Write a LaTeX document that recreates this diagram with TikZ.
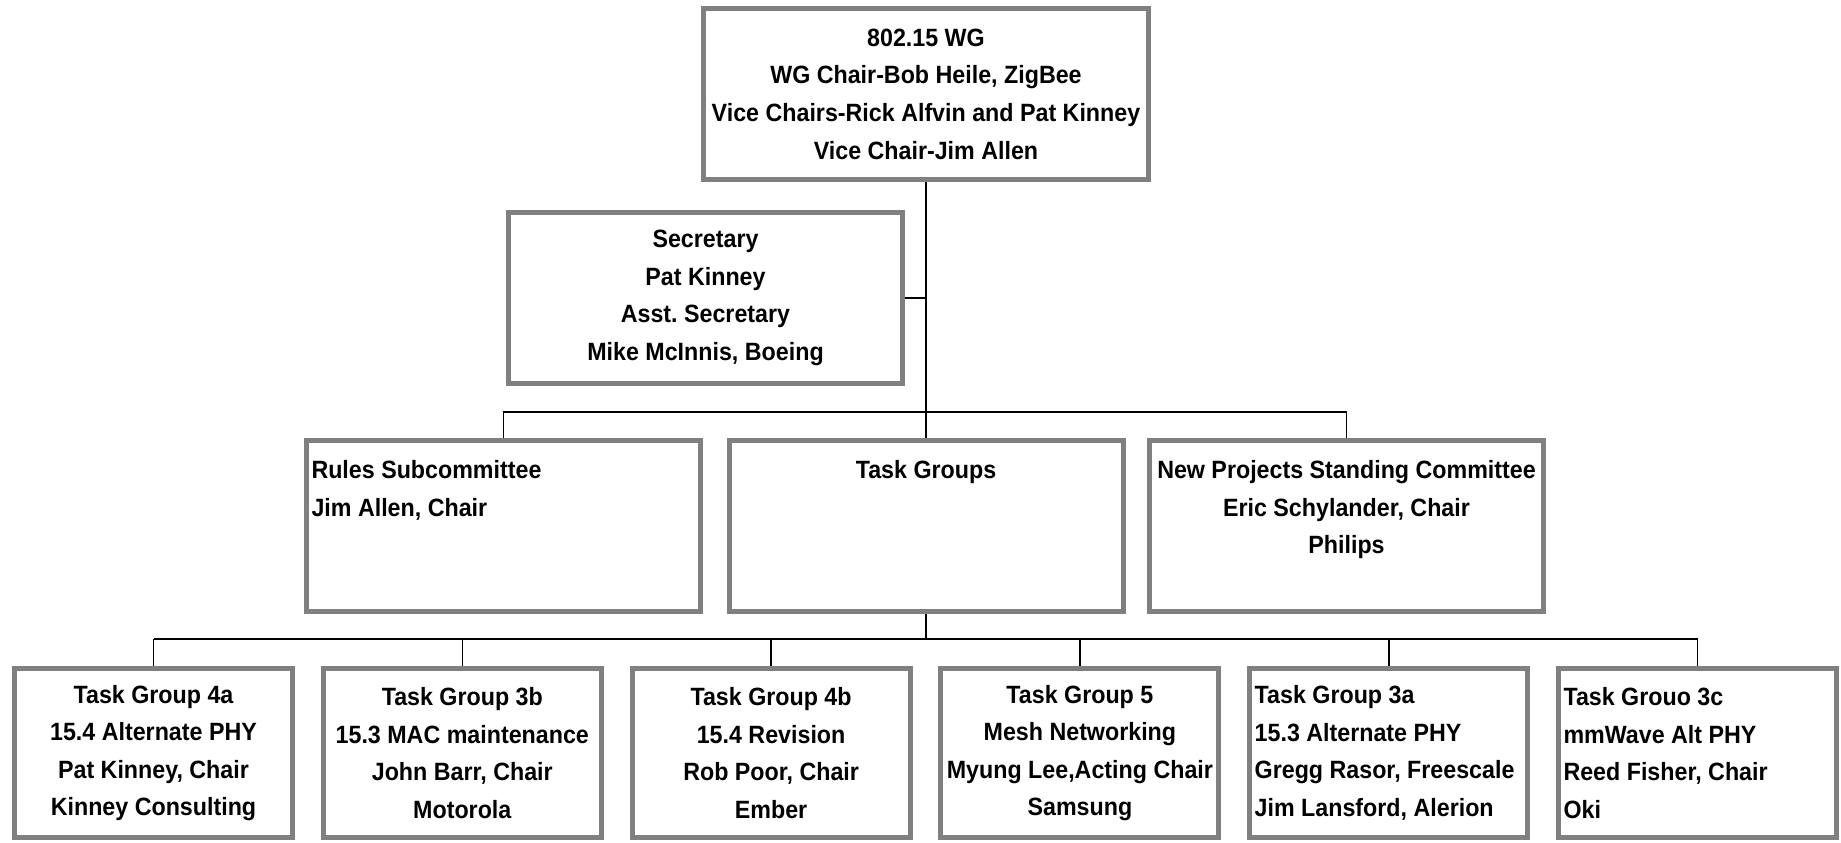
\documentclass[tikz,border=0pt]{standalone}
\usepackage{fontspec}
\setmainfont{Liberation Sans}[FakeStretch=0.93]
\usepackage{xcolor}
\usepackage{tikz}
\usetikzlibrary{positioning}
\definecolor{boxgray}{HTML}{808080}
\frenchspacing

\tikzset{
  orgbox/.style={draw=boxgray, line width=2.5pt, fill=white, inner xsep=2.5pt, inner ysep=0pt,
    font=\fontsize{12.5}{18.8}\selectfont\bfseries, align=center},
  headbox/.style={orgbox, minimum width=222.5pt, minimum height=85.5pt},
  midbox/.style={orgbox, minimum width=197pt, minimum height=85.5pt},
  tgbox/.style={orgbox, minimum width=139pt, minimum height=84.5pt},
  leftmid/.style={midbox, align=flush left, text width=192pt},
  lefttg/.style={tgbox, align=flush left, text width=134pt},
  link/.style={draw=black, line width=0.8pt}
}

\begin{document}
\begin{tikzpicture}[x=0.5pt, y=-0.5pt]
    \useasboundingbox[fill=white] (0,0) rectangle (1841,842);

    \node[headbox] (wg) at (926,94) {802.15 WG\\WG Chair-Bob Heile, ZigBee\\Vice Chairs-Rick Alfvin and Pat Kinney\\Vice Chair-Jim Allen};
    \node[midbox] (sec) at (705.5,298) {Secretary\\Pat Kinney\\Asst. Secretary\\Mike McInnis, Boeing};

    \node[leftmid] (rules) at (503.5,526) {Rules Subcommittee\\Jim Allen, Chair\\~\\~};
    \node[midbox] (tasks) at (926,526) {Task Groups\\~\\~\\~};
    \node[midbox] (newproj) at (1346.5,526) {New Projects Standing Committee\\Eric Schylander, Chair\\Philips\\~};

    \node[tgbox] (tg1) at (153.5,753) {Task Group 4a\\15.4 Alternate PHY\\Pat Kinney, Chair\\Kinney Consulting};
    \node[tgbox] (tg2) at (462.3,753) {Task Group 3b\\15.3 MAC maintenance\\John Barr, Chair\\Motorola};
    \node[tgbox] (tg3) at (771.1,753) {Task Group 4b\\15.4 Revision\\Rob Poor, Chair\\Ember};
    \node[tgbox] (tg4) at (1079.9,753) {Task Group 5\\Mesh Networking\\Myung Lee,Acting Chair\\Samsung};
    \node[lefttg] (tg5) at (1388.7,753) {Task Group 3a\\15.3 Alternate PHY\\Gregg Rasor, Freescale\\Jim Lansford, Alerion};
    \node[lefttg] (tg6) at (1697.5,753) {Task Grouo 3c\\mmWave Alt PHY\\Reed Fisher, Chair\\Oki};

    \coordinate (midbar) at (926,412);
    \coordinate (lowbar) at (926,639);

    \draw[link] (wg.south) -- (tasks.north);
    \draw[link] (sec.east) -- (sec.east -| wg.south);
    \draw[link] (rules.north) |- (midbar) -| (newproj.north);
    \draw[link] (tasks.south) -- (lowbar);
    \draw[link] (tg1.north |- lowbar) -- (tg6.north |- lowbar);
    \foreach \i in {1,...,6}
      \draw[link] (tg\i.north |- lowbar) -- (tg\i.north);
  \end{tikzpicture}
\end{document}
